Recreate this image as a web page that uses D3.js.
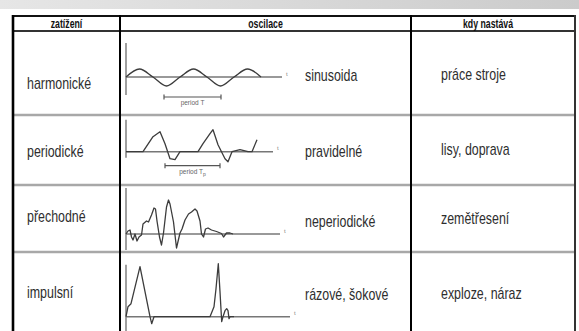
<!DOCTYPE html>
<html>
<head>
<meta charset="utf-8">
<script src="https://cdnjs.cloudflare.com/ajax/libs/d3/7.8.5/d3.min.js"></script>
<style>
  body { margin: 0; background: #fff; }
  svg text { font-family: "Liberation Sans", Arial, sans-serif; }
</style>
</head>
<body>
<div id="chart"></div>
<script>
// table texts
var headers = ["zatížení", "oscilace", "kdy nastává"];
var loadTypes = ["harmonické", "periodické", "přechodné", "impulsní"];
var waveNames = ["sinusoida", "pravidelné", "neperiodické", "rázové, šokové"];
var occurrences = ["práce stroje", "lisy, doprava", "zemětřesení", "exploze, náraz"];

// waveform sketches, [time, amplitude]
var sineWave = [[0,0],[13.5,8],[27,0],[40.5,-9],[54,0],[67.5,8],[81,0],[94.5,-9],[108,0],[121.5,8],[135,0]];
var periodicWave = [[0,0],[17,0],[27,15],[34,20],[39,8],[44,-7],[49,-8],[54,0],[72,0],[77,8],[84,18],[87,22],
  [92,7],[99,-7],[102,-10],[106,0],[114,2],[122,0],[126,0],[131,12]];
var transientWave = [[0,0],[2,3],[4,4],[5.5,-3],[7,-6],[9,0],[11,-7],[13,-3],[15.5,-1],[17,10],[20.5,13],[22.5,12],
  [25.5,19],[28,26],[29.5,25],[31,13],[33.5,-3],[35.5,-11],[37.5,1],[40.5,27],[42.5,34],[44,30],[47.5,12],
  [50.5,-14],[54,1],[56,5],[59,14],[62.5,20],[65.5,22],[69,25],[71,23],[74,13],[75.5,0],[77.5,-3],[79.5,5],
  [82,6],[85.5,4],[90.5,2.5],[95.5,0.5],[97.5,-3],[100.5,1],[104,1],[107,0]];
var impulseWave = [[0,0],[2,10],[5,13],[14,50],[20,20],[24,0],[25.7,-7],[28,0],[84,0],[88,10],[90,28],[92.3,53],
  [94,25],[95.7,-5],[97,0],[99,6],[100.7,8],[102,6],[103,-2],[104,0],[108,0]];
var waves = [sineWave, periodicWave, transientWave, impulseWave];

// time axis length and amplitude axis extent per sketch
var timeAxisEnd = [156, 147, 154, 164];
var ampAxis = [[-18, 34], [-6, 32], [-16, 46], [-16, 52]];
// "period" brackets [from, to] in time units
var periodMarks = [[38, 95], [39, 94], null, null];
var periodLabels = ["T", "Tp", null, null];

// layout
var svgWidth = 579, svgHeight = 331;
var colX = [13, 120, 411, 575];
var headerTop = 16, headerBottom = 31;
var rowEdges = [31, 115, 185, 252];
var axisOrigin = [77, 151.7, 234, 316.7];
var textBaseline = [[89, 81, 80], [157, 157, 155], [222, 227, 224], [298, 300, 299]];
var textX = [27, 305, 441];
var narrow = 0.73; // horizontal squeeze to imitate a condensed face

var svg = d3.select("#chart")
  .append("svg")
  .attr("width", svgWidth)
  .attr("height", svgHeight);

// grey band on top
var grad = svg.append("defs").append("linearGradient")
  .attr("id", "band").attr("x1", "0").attr("x2", "1").attr("y1", "0").attr("y2", "0");
grad.append("stop").attr("offset", "0").attr("stop-color", "#e6e6e6");
grad.append("stop").attr("offset", "1").attr("stop-color", "#cbcbcb");
svg.append("rect")
  .attr("x", 0).attr("y", 0)
  .attr("width", svgWidth).attr("height", 9)
  .attr("fill", "url(#band)");

// row separators
svg.selectAll("line.sep")
  .data(rowEdges.slice(1))
  .enter()
  .append("line")
  .attr("x1", colX[0]).attr("x2", colX[3])
  .attr("y1", d => d).attr("y2", d => d)
  .attr("stroke", "#a8a8a8")
  .attr("stroke-width", 2.5);

// header lines
svg.append("line")
  .attr("x1", colX[0]).attr("x2", colX[3])
  .attr("y1", headerTop).attr("y2", headerTop)
  .attr("stroke", "#111").attr("stroke-width", 1.8);
svg.append("line")
  .attr("x1", colX[0]).attr("x2", colX[3])
  .attr("y1", headerBottom).attr("y2", headerBottom)
  .attr("stroke", "#333").attr("stroke-width", 2);

// vertical borders
svg.selectAll("line.col")
  .data(colX)
  .enter()
  .append("line")
  .attr("x1", d => d).attr("x2", d => d)
  .attr("y1", headerTop - 1).attr("y2", svgHeight)
  .attr("stroke", (d, i) => i == 3 ? "#333" : "#000")
  .attr("stroke-width", (d, i) => i == 0 ? 2.6 : 2);

// header labels
svg.selectAll("text.head")
  .data(headers)
  .enter()
  .append("text")
  .attr("transform", (d, i) => `translate(${(colX[i] + colX[i + 1]) / 2 - (i == 2 ? 5 : 0)}, 28) scale(${narrow}, 1)`)
  .attr("text-anchor", "middle")
  .attr("font-size", "12px")
  .attr("font-weight", "bold")
  .attr("fill", "#111")
  .text(d => d);

// cell texts
var columns = [loadTypes, waveNames, occurrences];
columns.forEach(function(col, c) {
  svg.selectAll("text.c" + c)
    .data(col)
    .enter()
    .append("text")
    .attr("transform", (d, i) => `translate(${textX[c]}, ${textBaseline[i][c]}) scale(${narrow}, 1)`)
    .attr("font-size", "17px")
    .attr("fill", "#2e2e2e")
    .text(d => d);
});

// waveform sketches
var xScale = d3.scaleLinear().domain([0, 160]).range([126, 286]);

waves.forEach(function(wave, i) {
  var yScale = d3.scaleLinear().domain([0, 10]).range([axisOrigin[i], axisOrigin[i] - 10]);
  var g = svg.append("g");

  // amplitude axis
  g.append("line")
    .attr("x1", xScale(0)).attr("x2", xScale(0))
    .attr("y1", yScale(ampAxis[i][1])).attr("y2", yScale(ampAxis[i][0]))
    .attr("stroke", "#777").attr("stroke-width", 1.4);

  // time axis
  g.append("line")
    .attr("x1", xScale(0)).attr("x2", xScale(timeAxisEnd[i]))
    .attr("y1", yScale(0)).attr("y2", yScale(0))
    .attr("stroke", "#777").attr("stroke-width", 1.4);
  g.append("text")
    .attr("x", xScale(timeAxisEnd[i]) + 4)
    .attr("y", yScale(1.5))
    .attr("font-size", "6px")
    .attr("fill", "#888")
    .text("t");

  var line = d3.line()
    .x(d => xScale(d[0]))
    .y(d => yScale(d[1]))
    .curve(i == 0 ? d3.curveCardinal : d3.curveLinear);

  g.append("path")
    .datum(wave)
    .attr("d", line)
    .attr("fill", "none")
    .attr("stroke", "#3c3c3c")
    .attr("stroke-width", 1.3)
    .attr("stroke-linejoin", "round");

  // period bracket
  if (periodMarks[i]) {
    var by = axisOrigin[i] + (i == 0 ? 20 : 14);
    var p = periodMarks[i];
    g.append("line")
      .attr("x1", xScale(p[0])).attr("x2", xScale(p[1]))
      .attr("y1", by).attr("y2", by)
      .attr("stroke", "#555").attr("stroke-width", 1.2);
    p.forEach(function(v) {
      g.append("line")
        .attr("x1", xScale(v)).attr("x2", xScale(v))
        .attr("y1", by - 2.5).attr("y2", by + 2.5)
        .attr("stroke", "#555").attr("stroke-width", 1.2);
    });
    var lbl = g.append("text")
      .attr("x", (xScale(p[0]) + xScale(p[1])) / 2)
      .attr("y", by + 8)
      .attr("text-anchor", "middle")
      .attr("font-size", "6.5px")
      .attr("fill", "#666");
    lbl.append("tspan").text("period " + periodLabels[i].charAt(0));
    if (periodLabels[i].length > 1) {
      lbl.append("tspan").attr("dy", 2).attr("font-size", "5px").text(periodLabels[i].slice(1));
    }
  }
});
</script>
</body>
</html>
